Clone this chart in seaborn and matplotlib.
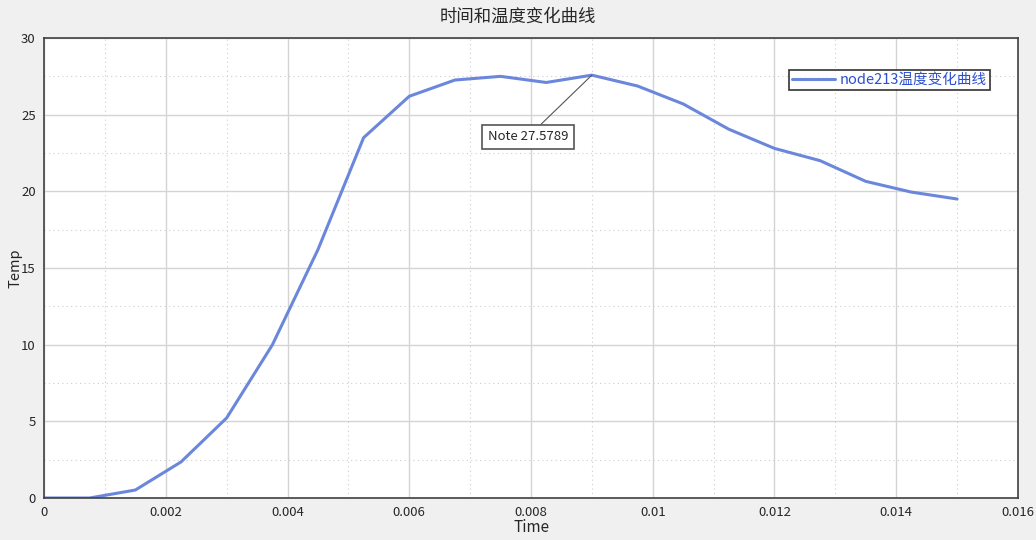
import numpy as np
import pandas as pd
import matplotlib
matplotlib.use("Agg")
import matplotlib.pyplot as plt
import seaborn as sns
from matplotlib.ticker import MultipleLocator

# 데이터
time = [0.0, 0.00075, 0.0015, 0.00225, 0.003, 0.00375, 0.0045, 0.00525,
        0.006, 0.00675, 0.0075, 0.00825, 0.009, 0.00975, 0.0105, 0.01125,
        0.012, 0.01275, 0.0135, 0.01425, 0.015]
temp = [0.0, 0.0, 0.52, 2.35, 5.22, 9.98, 16.2, 23.5,
        26.2, 27.26, 27.5, 27.1, 27.5789, 26.87, 25.7, 24.05,
        22.8, 22.0, 20.65, 19.95, 19.5]
series_name = "node213温度变化曲线"
note_x = 0.009
note_y = 27.5789

df = pd.DataFrame({"Time": time, "Temp": temp})

sns.set_style("white")
plt.rcParams["font.family"] = ["Noto Sans CJK SC", "DejaVu Sans"]

fig = plt.figure(figsize=(10.36, 5.40), dpi=100, facecolor="#f0f0f0")
ax = fig.add_axes([0.0425, 0.0778, 0.9401, 0.8518])
ax.set_facecolor("white")

sns.lineplot(data=df, x="Time", y="Temp", ax=ax, color="#6a87dc",
             linewidth=2.2, label=series_name)

ax.set_xlim(0, 0.016)
ax.set_ylim(0, 30)
ax.xaxis.set_major_locator(MultipleLocator(0.002))
ax.xaxis.set_minor_locator(MultipleLocator(0.001))
ax.yaxis.set_major_locator(MultipleLocator(5))
ax.yaxis.set_minor_locator(MultipleLocator(2.5))
ax.set_xticks(np.arange(0, 0.0161, 0.002))
ax.set_xticklabels(["0", "0.002", "0.004", "0.006", "0.008", "0.01",
                    "0.012", "0.014", "0.016"])

ax.grid(which="major", color="#d4d4d4", linewidth=1, linestyle="-")
ax.grid(which="minor", color="#cccccc", linewidth=0.8, linestyle=(0, (1, 3)))
ax.set_axisbelow(True)

for side in ["left", "bottom", "top", "right"]:
    ax.spines[side].set_color("#404040")
    ax.spines[side].set_linewidth(1.2)

ax.tick_params(axis="both", which="major", direction="out", length=4,
               width=1, color="#404040", labelsize=9.5, pad=2)
ax.tick_params(axis="both", which="minor", length=0)

ax.set_xlabel("Time", fontsize=11, labelpad=0)
ax.set_ylabel("Temp", fontsize=10.5)
ax.yaxis.set_label_coords(-0.022, 0.5)
fig.suptitle("时间和温度变化曲线", fontsize=12.5, y=0.985)

# Note 주석
ax.annotate(f"Note {note_y}", xy=(note_x, note_y), xytext=(0.00795, 23.55),
            ha="center", va="center", fontsize=9.5,
            bbox=dict(boxstyle="square,pad=0.42", fc="white", ec="#555555", lw=1.2),
            arrowprops=dict(arrowstyle="-", color="#555555", lw=0.8,
                            shrinkA=0, shrinkB=0))

leg = ax.legend(loc="upper right", bbox_to_anchor=(0.971, 0.93), fontsize=10.5,
                frameon=True, fancybox=False, handlelength=3.0,
                borderpad=0.2, borderaxespad=0, handletextpad=0.3,
                labelcolor="#2a4fd0")
leg.get_frame().set_edgecolor("black")
leg.get_frame().set_linewidth(1.2)

plt.savefig("out.png", dpi=100, facecolor=fig.get_facecolor())
plt.close()
